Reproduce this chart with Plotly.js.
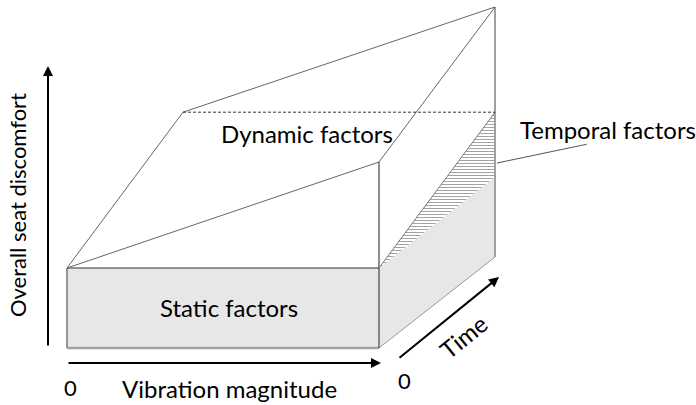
<!DOCTYPE html>
<html><head><meta charset="utf-8">
<script src="https://cdn.plot.ly/plotly-3.0.1.min.js"></script>
<style>html,body{margin:0;padding:0;background:#fff}#chart{width:696px;height:405px}</style>
</head><body><div id="chart"></div>
<script>
// ---- diagram values (normalised units) ----
const vibrationMagnitude = [0, 1];          // start / end of vibration axis
const timeSpan = [0, 1];                    // start / end of time (depth) axis
const staticDiscomfort = [1, 1];            // static level at time start / end (flat)
const dynamicFront = [1, 2.325];            // overall discomfort at time start: vib 0, vib max
const dynamicBack = [1.81, 3.125];          // overall discomfort at time end: vib 0, vib max
const temporalAtMaxVib = [1, 1.81];         // top of temporal band at vib max: time start, time end
const regionLabels = ["Dynamic factors", "Static factors", "Temporal factors"];
const axisLabels = ["Overall seat discomfort", "Vibration magnitude", "Time"];
const originLabels = ["0", "0"];

// ---- oblique projection ----
const P = {x0: 67, y0: 348, vx: 312, tx: 116, ty: -91, dz: 80};
const X = (v, t, d) => P.x0 + v * P.vx + t * P.tx;
const Y = (v, t, d) => P.y0 - d * P.dz + t * P.ty;
function path(pts) { return {x: pts.map(p => X(...p)), y: pts.map(p => Y(...p))}; }

const [v0, v1] = vibrationMagnitude, [t0, t1] = timeSpan;
const traces = [];
function fillPoly(pts, color, extra) {
  const p = path(pts);
  traces.push(Object.assign({type: 'scatter', mode: 'lines', x: p.x, y: p.y, fill: 'toself',
    fillcolor: color, line: {width: 0, color: 'rgba(0,0,0,0)'}, hoverinfo: 'skip', showlegend: false}, extra || {}));
}
function line(pts, color, width, dash) {
  const p = path(pts);
  traces.push({type: 'scatter', mode: 'lines', x: p.x, y: p.y,
    line: {color: color, width: width, dash: dash || 'solid'}, hoverinfo: 'skip', showlegend: false});
}

// faces
fillPoly([[v0,t0,0],[v1,t0,0],[v1,t0,staticDiscomfort[0]],[v0,t0,staticDiscomfort[0]],[v0,t0,0]], '#e7e7e7');
fillPoly([[v1,t0,0],[v1,t1,0],[v1,t1,staticDiscomfort[1]],[v1,t0,staticDiscomfort[0]],[v1,t0,0]], '#e7e7e7');
fillPoly([[v1,t0,temporalAtMaxVib[0]],[v1,t1,staticDiscomfort[1]],[v1,t1,temporalAtMaxVib[1]],[v1,t0,temporalAtMaxVib[0]]], 'white',
  {fillpattern: {shape: '-', size: 3, solidity: 0.3, fgcolor: '#9a9a9a', bgcolor: 'white'}});

// edges
line([[v0,t0,0],[v0,t0,staticDiscomfort[0]]], '#777', 1.5);
line([[v0,t0,0],[v1,t0,0]], '#a0a0a0', 2.5);
line([[v1,t0,0],[v1,t1,0]], '#999', 1);
line([[v1,t1,0],[v1,t1,dynamicBack[1]]], '#a0a0a0', 2);
line([[v0,t0,staticDiscomfort[0]],[v1,t0,staticDiscomfort[0]]], '#333', 1.2);
line([[v1,t0,0],[v1,t0,dynamicFront[1]]], '#444', 1.2);
line([[v0,t0,dynamicFront[0]],[v1,t0,dynamicFront[1]],[v1,t1,dynamicBack[1]],[v0,t1,dynamicBack[0]],[v0,t0,dynamicFront[0]]], '#666', 1);
line([[v1,t0,temporalAtMaxVib[0]],[v1,t1,temporalAtMaxVib[1]]], '#777', 1);
line([[v0,t1,dynamicBack[0]],[v1,t1,dynamicBack[0]]], '#333', 1, '3px,2px');

const font = (s) => ({family: 'Lato, Carlito, sans-serif', size: s, color: '#000'});
const arrow = (x, y, ax, ay) => ({x: x, y: y, ax: ax, ay: ay, xref: 'x', yref: 'y', axref: 'x', ayref: 'y',
  text: '', showarrow: true, arrowhead: 2, arrowsize: 1, arrowwidth: 2, arrowcolor: '#000'});
const annotations = [
  arrow(48, 66, 48, 347),
  arrow(381, 363, 67, 363),
  arrow(499, 277, 398, 359),
  {x: 497, y: 163, ax: 588, ay: 144, xref: 'x', yref: 'y', axref: 'x', ayref: 'y', text: '', showarrow: true,
    arrowhead: 0, arrowwidth: 1, arrowcolor: '#555'},
  {x: 307, y: 133, xref: 'x', yref: 'y', text: regionLabels[0], showarrow: false, font: font(24)},
  {x: 229, y: 307, xref: 'x', yref: 'y', text: regionLabels[1], showarrow: false, font: font(24)},
  {x: 608, y: 129, xref: 'x', yref: 'y', text: regionLabels[2], showarrow: false, font: font(24)},
  {x: 17, y: 205, xref: 'x', yref: 'y', text: axisLabels[0], showarrow: false, font: font(22), textangle: -90},
  {x: 229, y: 388, xref: 'x', yref: 'y', text: axisLabels[1], showarrow: false, font: font(24)},
  {x: 463, y: 336, xref: 'x', yref: 'y', text: axisLabels[2], showarrow: false, font: font(24), textangle: -39},
  {x: 70, y: 387, xref: 'x', yref: 'y', text: originLabels[0], showarrow: false, font: font(22)},
  {x: 404, y: 380, xref: 'x', yref: 'y', text: originLabels[1], showarrow: false, font: font(22)}
];

const layout = {
  width: 696, height: 405, margin: {l: 0, r: 0, t: 0, b: 0},
  paper_bgcolor: '#fff', plot_bgcolor: '#fff', showlegend: false,
  xaxis: {range: [0, 696], visible: false, fixedrange: true},
  yaxis: {range: [405, 0], visible: false, fixedrange: true},
  annotations: annotations
};
Plotly.newPlot('chart', traces, layout, {displayModeBar: false, staticPlot: true});
</script></body></html>
